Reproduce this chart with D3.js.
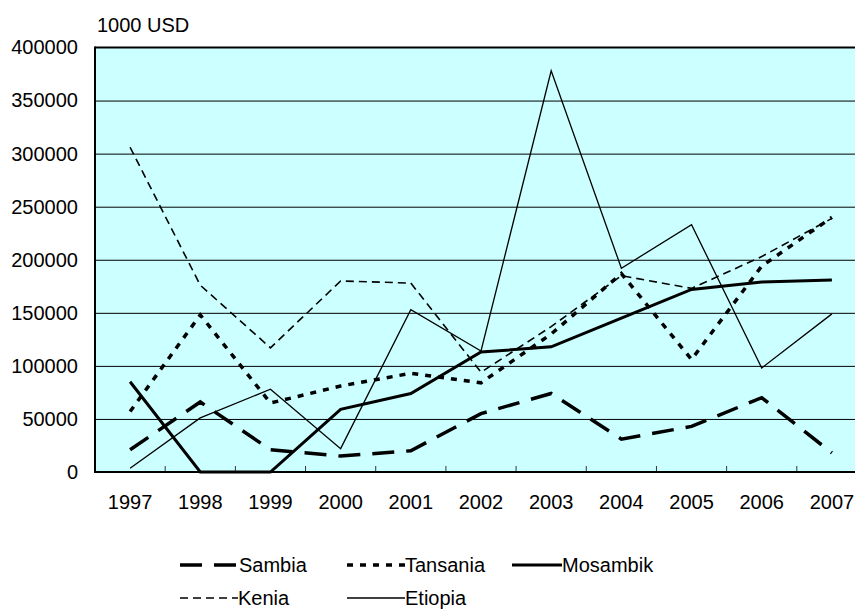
<!DOCTYPE html>
<html>
<head>
<meta charset="utf-8">
<script src="https://cdn.jsdelivr.net/npm/d3@7"></script>
<style>
    body { margin: 0; background: #ffffff; }
    svg text { font-family: "Liberation Sans", Arial, sans-serif; font-size: 20px; fill: #000; }
</style>
</head>
<body>
<script>

// values in 1000 USD
var years = ["1997","1998","1999","2000","2001","2002","2003","2004","2005","2006","2007"];
var sambia   = [21000, 66000, 21000, 15000, 20000, 55000, 74000, 31000, 43000, 70000, 18000];
var tansania = [57000, 148000, 65000, 81000, 93000, 84000, 130000, 187000, 106000, 194000, 240000];
var mosambik = [85000, 0, 0, 59000, 74000, 113000, 118000, 145000, 172000, 179000, 181000];
var kenia    = [306000, 176000, 117000, 180000, 178000, 94000, 137000, 185000, 173000, 203000, 239000];
var etiopia  = [3500, 51000, 78000, 22000, 153000, 114000, 378000, 192000, 233000, 98000, 149000];
var yTicks = [0, 50000, 100000, 150000, 200000, 250000, 300000, 350000, 400000];
var unitLabel = "1000 USD";

/** styles for each series, same order in legend */
var series = [
    {name: "Sambia",   values: sambia,   width: 3.5, dash: "22,12"},
    {name: "Tansania", values: tansania, width: 3.5, dash: "6,7"},
    {name: "Mosambik", values: mosambik, width: 3,   dash: null},
    {name: "Kenia",    values: kenia,    width: 1.6, dash: "8,5"},
    {name: "Etiopia",  values: etiopia,  width: 1.3, dash: null}
];

function drawChart(){
    var left = 95, top = 47.5, bottom = 472, right = 867;

    var svgEl = d3.select("body").append("svg")
        .attr("width", 855)
        .attr("height", 610);

    var x = d3.scaleBand().domain(years).range([left, right]);
    var y = d3.scaleLinear().domain([0, 400000]).range([bottom, top]);

    // plot background
    svgEl.append("rect")
        .attr("x", left)
        .attr("y", top)
        .attr("width", right - left)
        .attr("height", bottom - top)
        .attr("fill", "#ccffff");

    // horizontal grid lines
    var grid = svgEl.append("g")
        .attr("transform", "translate(" + left + ",0)")
        .call(d3.axisLeft(y).tickValues(yTicks.slice(1, -1)).tickSize(-(right - left)).tickFormat(""));
    grid.select(".domain").remove();
    grid.selectAll("line").attr("stroke", "#000").attr("stroke-width", 1);

    // y labels
    var yAxis = svgEl.append("g")
        .attr("transform", "translate(" + left + ",0)")
        .call(d3.axisLeft(y).tickValues(yTicks).tickSize(0).tickPadding(17).tickFormat(d3.format("d")));
    yAxis.select(".domain").remove();
    yAxis.selectAll("text").attr("font-size", null).attr("font-family", null);

    // x labels
    var xAxis = svgEl.append("g")
        .attr("transform", "translate(0," + bottom + ")")
        .call(d3.axisBottom(x).tickSize(0).tickPadding(23));
    xAxis.select(".domain").remove();
    xAxis.selectAll("text").attr("font-size", null).attr("font-family", null);

    // small ticks between categories, pointing up
    svgEl.append("g").selectAll("line")
        .data(years.slice(1))
        .enter().append("line")
        .attr("x1", function(d){ return x(d); })
        .attr("x2", function(d){ return x(d); })
        .attr("y1", bottom)
        .attr("y2", bottom - 6)
        .attr("stroke", "#333")
        .attr("stroke-width", 1);

    // frame: top, left, bottom
    svgEl.append("line").attr("x1", left).attr("x2", right).attr("y1", top).attr("y2", top)
        .attr("stroke", "#000").attr("stroke-width", 2);
    svgEl.append("line").attr("x1", left).attr("x2", left).attr("y1", top - 1).attr("y2", bottom + 1)
        .attr("stroke", "#000").attr("stroke-width", 2);
    svgEl.append("line").attr("x1", left).attr("x2", right).attr("y1", bottom).attr("y2", bottom)
        .attr("stroke", "#000").attr("stroke-width", 2);

    svgEl.append("text")
        .attr("x", 97)
        .attr("y", 32)
        .text(unitLabel);

    // the lines
    var line = d3.line()
        .x(function(d, i){ return x(years[i]) + x.bandwidth() / 2; })
        .y(function(d){ return y(d); });

    series.forEach(function(s){
        svgEl.append("path")
            .attr("d", line(s.values))
            .attr("fill", "none")
            .attr("stroke", "#000")
            .attr("stroke-width", s.width)
            .attr("stroke-dasharray", s.dash)
            .attr("stroke-linejoin", "miter");
    });

    // legend, two rows (second row kept just inside the bottom edge)
    var legendPos = [[180, 565], [347, 565], [512, 565], [180, 598], [347, 598]];
    series.forEach(function(s, i){
        var lx = legendPos[i][0], ly = legendPos[i][1];
        var len = (i == 2) ? 50 : 58;
        svgEl.append("line")
            .attr("x1", lx).attr("x2", lx + len)
            .attr("y1", ly).attr("y2", ly)
            .attr("stroke", "#000")
            .attr("stroke-width", s.width)
            .attr("stroke-dasharray", s.dash);
        svgEl.append("text")
            .attr("x", (i == 0) ? lx + 59 : lx + len)
            .attr("y", ly)
            .attr("dy", "0.33em")
            .text(s.name);
    });
}

drawChart();
</script>
</body>
</html>
